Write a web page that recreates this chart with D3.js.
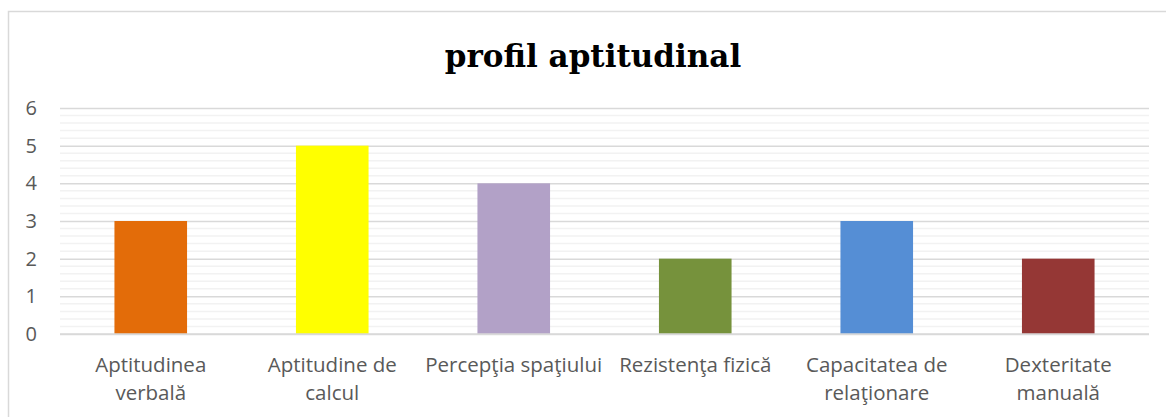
<!DOCTYPE html>
<html><head><meta charset="utf-8">
<script src="https://cdn.jsdelivr.net/npm/d3@7"></script>
<style>body{margin:0;background:#fff}svg{display:block}</style>
</head><body>
<svg id="c" width="1166" height="417"></svg>
<script>
const categories = [["Aptitudinea","verbală"],["Aptitudine de","calcul"],["Percepţia spaţiului"],["Rezistenţa fizică"],["Capacitatea de","relaţionare"],["Dexteritate","manuală"]];
const values = [3,5,4,2,3,2];
const colors = ["#E36C09","#FFFF00","#B2A1C7","#76923C","#558ED5","#953735"];
const yTicks = [0,1,2,3,4,5,6];
const title = "profil aptitudinal";

const svg = d3.select("#c");
svg.append("rect").attr("x",8.5).attr("y",11.5).attr("width",1170).attr("height",420)
  .attr("fill","#fff").attr("stroke","#d9d9d9").attr("stroke-width",1.5);

const m={l:60,r:1149,t:108,b:334};
const x=d3.scaleBand().domain(d3.range(categories.length)).range([m.l,m.r]).paddingInner(0.6).paddingOuter(0.3);
const y=d3.scaleLinear().domain([0,6]).range([m.b,m.t]);

const minor=d3.range(0,6.001,0.2).filter(v=>Math.abs(v-Math.round(v))>1e-6);
svg.append("g").selectAll("line").data(minor).join("line")
  .attr("x1",m.l).attr("x2",m.r).attr("y1",d=>y(d)).attr("y2",d=>y(d))
  .attr("stroke","#f2f2f2").attr("stroke-width",1.5);
const yAxis=d3.axisLeft(y).tickValues(yTicks).tickSize(-(m.r-m.l)).tickFormat(d3.format("d"));
const ga=svg.append("g").attr("transform",`translate(${m.l},0)`).call(yAxis);
ga.select(".domain").remove();
ga.selectAll(".tick line").attr("stroke","#d9d9d9").attr("stroke-width",1.5);
ga.selectAll(".tick text").attr("x",-23).attr("fill","#595959")
  .style("font-family","'Open Sans',sans-serif").style("font-size","20px");

svg.append("g").selectAll("rect").data(values).join("rect")
  .attr("x",(d,i)=>x(i)).attr("width",x.bandwidth())
  .attr("y",d=>y(d)).attr("height",d=>y(0)-y(d))
  .attr("fill",(d,i)=>colors[i]);

svg.append("line").attr("x1",m.l).attr("x2",m.r).attr("y1",y(0)).attr("y2",y(0))
  .attr("stroke","#d9d9d9").attr("stroke-width",1.5);

const xl=svg.append("g").selectAll("text").data(categories).join("text")
  .attr("text-anchor","middle").attr("fill","#595959")
  .style("font-family","'Open Sans',sans-serif").style("font-size","20.5px")
  .attr("transform",(d,i)=>`translate(${x(i)+x.bandwidth()/2},372)`);
xl.selectAll("tspan").data(d=>d).join("tspan").attr("x",0).attr("dy",(d,i)=>i?28:0).text(d=>d);

svg.append("text").attr("x",593).attr("y",67).attr("text-anchor","middle")
  .style("font-family","'DejaVu Serif',serif").style("font-weight","bold").style("font-size","31px")
  .attr("fill","#000").text(title);
</script>
</body></html>
